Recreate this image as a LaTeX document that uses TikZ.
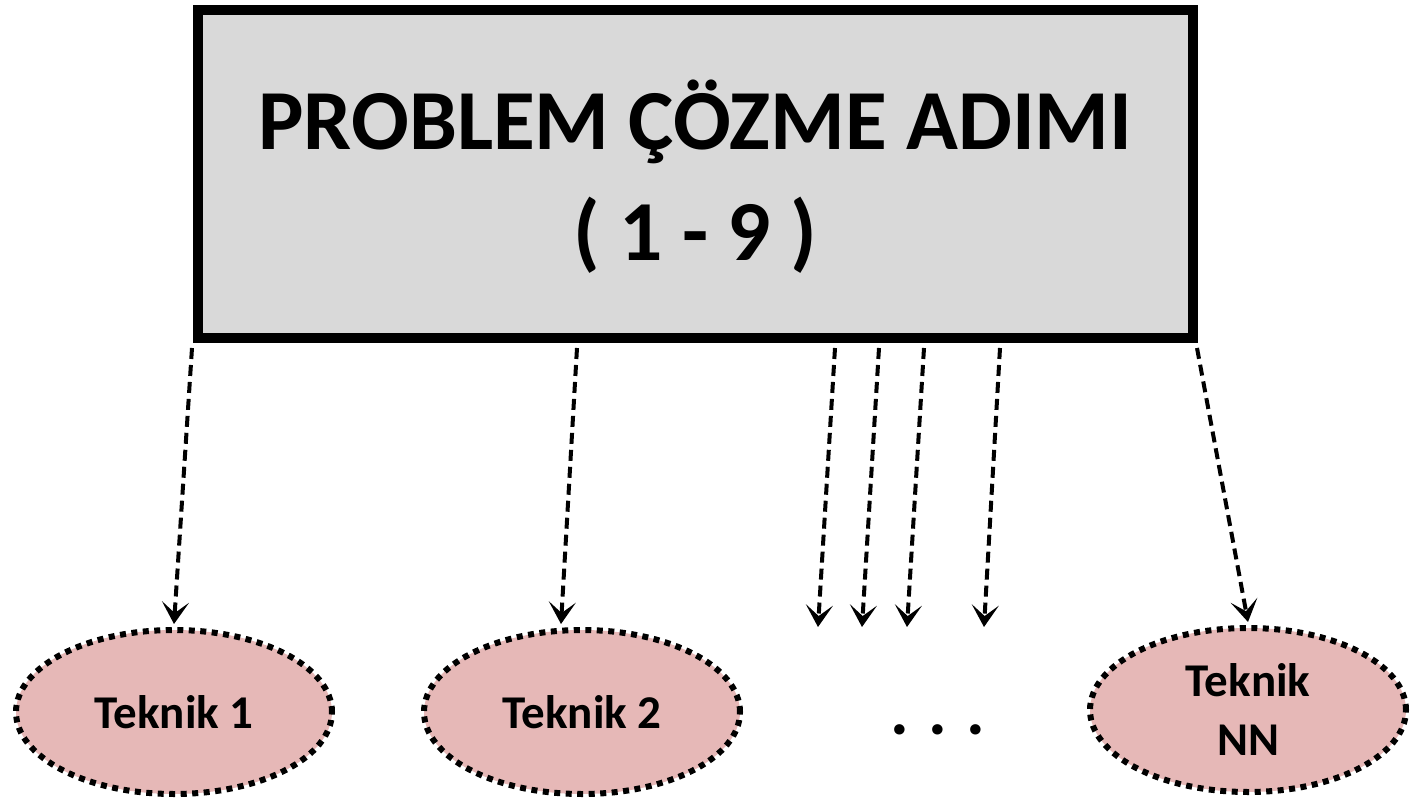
\documentclass[tikz,border=0pt]{standalone}
\usepackage{fontspec}
\setmainfont{Carlito}
\usetikzlibrary{shapes.geometric,arrows.meta,calc}
\definecolor{boxgray}{HTML}{D9D9D9}
\definecolor{techpink}{HTML}{E6B8B7}
\tikzset{
  mainbox/.style={draw=black, line width=10pt, fill=boxgray, rectangle,
    minimum width=995pt, minimum height=328pt, inner sep=0pt, text depth=7pt,
    align=center, font=\bfseries\fontsize{85.5}{111}\selectfont},
  technique/.style={ellipse, draw=black, fill=techpink, line width=6pt,
    dash pattern=on 6pt off 5.5pt, minimum width=316pt, minimum height=164pt,
    inner sep=0pt, align=center, font=\bfseries\fontsize{47}{59}\selectfont},
  link/.style={line width=4pt, dash pattern=on 11pt off 6pt,
    -{Stealth[length=22pt, width=27pt, inset=11pt]}},
  dots/.style={font=\bfseries\fontsize{70}{70}\selectfont, inner sep=0pt}
}
\begin{document}
\begin{tikzpicture}[x=1pt, y=-1pt]
  \useasboundingbox (0,0) rectangle (1416,799);
  \node[mainbox] (step) at (695.5,174) {PROBLEM ÇÖZME ADIMI\\( 1 - 9 )};
  \node[technique] (t1) at (174,712) {Teknik 1};
  \node[technique] (t2) at (582,712) {Teknik 2};
  \node[technique] (tn) at (1248,710) {Teknik\\NN};
  \node[dots] (more) at (938,730) {.\kern19pt.\kern19pt.};
  % free ends of the intermediate arrows
  \coordinate (e1) at (818,627);
  \coordinate (e2) at (862,627);
  \coordinate (e3) at (907,627);
  \coordinate (e4) at (984,627);
  \coordinate (s0) at ([xshift=-1pt,yshift=-5pt]step.south west);
  \coordinate (s1) at ([xshift=384pt,yshift=-5pt]step.south west);
  \coordinate (s2) at ([xshift=642pt,yshift=-5pt]step.south west);
  \coordinate (s3) at ([xshift=686pt,yshift=-5pt]step.south west);
  \coordinate (s4) at ([xshift=731pt,yshift=-5pt]step.south west);
  \coordinate (s5) at ([xshift=807pt,yshift=-5pt]step.south west);
  \coordinate (s6) at ([xshift=-1pt,yshift=-5pt]step.south east);
  \draw[link] (s0) -- ([yshift=3pt]t1.north);
  \draw[link] (s1) -- ([xshift=-21pt,yshift=3pt]t2.north);
  \draw[link] (s2) -- (e1);
  \draw[link] (s3) -- (e2);
  \draw[link] (s4) -- (e3);
  \draw[link] (s5) -- (e4);
  \draw[link] (s6) -- ([yshift=3pt]tn.north);
\end{tikzpicture}
\end{document}
